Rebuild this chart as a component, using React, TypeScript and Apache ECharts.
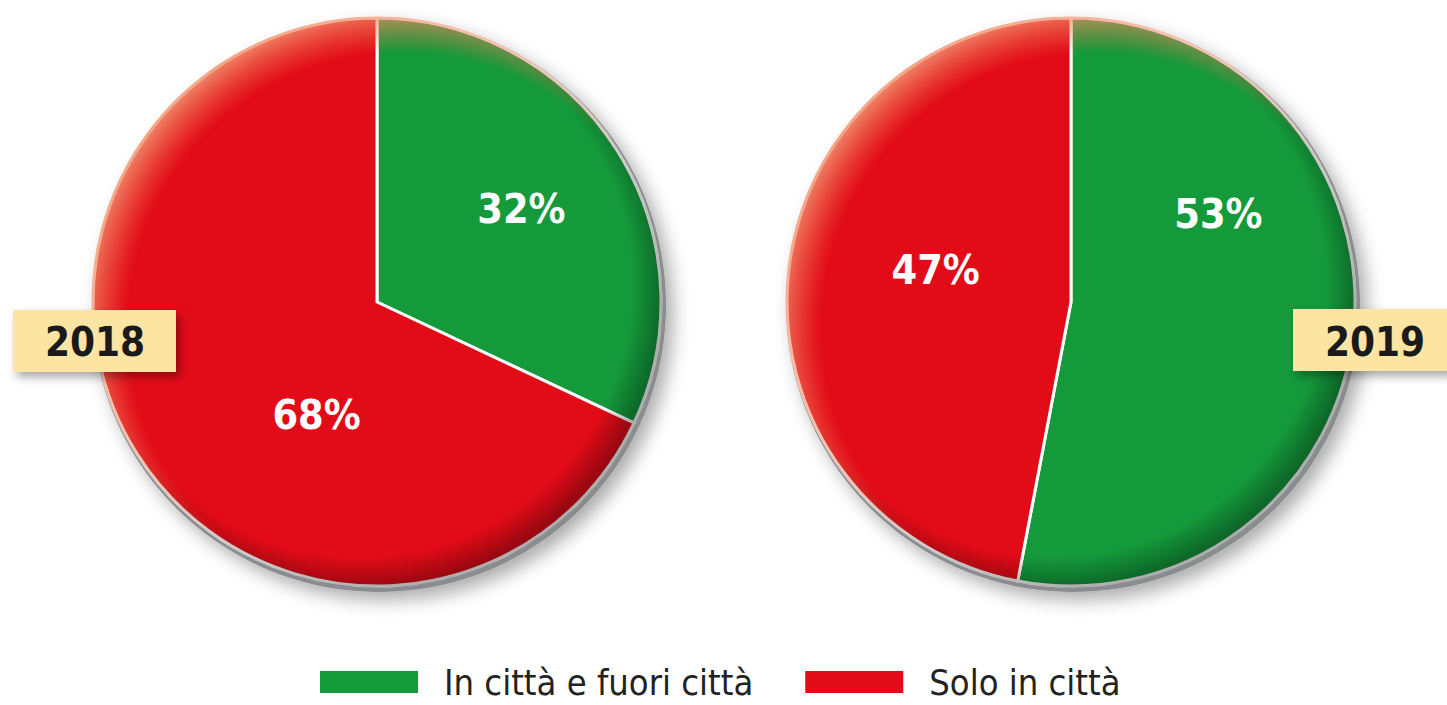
import React, { useEffect, useRef } from "react";
import * as echarts from "echarts";

const categories = ["In città e fuori città", "Solo in città"];
const years = ["2018", "2019"];
const values2018 = [32, 68];
const values2019 = [53, 47];
const colors = ["#14993b", "#e20b18"];

const FONT = '"Liberation Sans Narrow", "DejaVu Sans Condensed", "Roboto Condensed", sans-serif';

// label nudges (px) relative to ECharts' "inside" position, per pie and slice
const labelNudges = [
  [[22, -15], [62, 35]],
  [[3, -102], [9, -18]],
];

const pieCenters = [[377, 302], [1071, 302]];
const R = 284;

export default function App() {
  const ref = useRef<HTMLDivElement>(null);
  useEffect(() => {
    document.body.style.margin = "0";
    const chart = echarts.init(ref.current!, null, { renderer: "svg" });
    const allValues = [values2018, values2019];

    const series = allValues.map((vals, pi) => ({
      type: "pie",
      center: pieCenters[pi],
      radius: R,
      startAngle: 90,
      clockwise: true,
      z: 2,
      silent: true,
      itemStyle: { borderColor: "#ffffff", borderWidth: 3 },
      label: {
        show: true,
        position: "inside",
        formatter: "{c}%",
        color: "#ffffff",
        fontFamily: FONT,
        fontWeight: "bold",
        fontSize: 41,
      },
      labelLine: { show: false },
      data: vals.map((v, i) => ({
        name: categories[i],
        value: v,
        itemStyle: { color: colors[i] },
        label: { offset: labelNudges[pi][i] },
      })),
    }));

    const graphics: any[] = [];
    pieCenters.forEach(([cx, cy]) => {
      graphics.push({
        type: "circle",
        z: 1,
        silent: true,
        shape: { cx: cx + 2, cy: cy + 3, r: R + 3 },
        style: {
          fill: "#8a8d8f",
          shadowBlur: 18,
          shadowOffsetX: 7,
          shadowOffsetY: 8,
          shadowColor: "rgba(0,0,0,0.33)",
        },
      });
      graphics.push({
        type: "circle",
        z: 5,
        silent: true,
        shape: { cx, cy, r: R + 1.5 },
        style: {
          fill: new echarts.graphic.RadialGradient(0.47, 0.47, 0.53, [
            { offset: 0, color: "rgba(0,0,0,0)" },
            { offset: 0.9, color: "rgba(0,0,0,0)" },
            { offset: 1, color: "rgba(0,0,0,0.32)" },
          ]),
        },
      });
      graphics.push({
        type: "circle",
        z: 5,
        silent: true,
        shape: { cx, cy, r: R + 1.5 },
        style: {
          fill: new echarts.graphic.RadialGradient(0.545, 0.545, 0.56, [
            { offset: 0, color: "rgba(240,110,70,0)" },
            { offset: 0.86, color: "rgba(240,110,70,0)" },
            { offset: 1, color: "rgba(242,150,115,0.85)" },
          ]),
        },
      });
    });

    const boxes = [
      { x: 13, y: 310, w: 163, tx: 95 },
      { x: 1293, y: 309, w: 160, tx: 1375 },
    ];
    years.forEach((yr, i) => {
      const b = boxes[i];
      graphics.push({
        type: "rect",
        z: 20,
        zlevel: 1,
        silent: true,
        shape: { x: b.x, y: b.y, width: b.w, height: 62 },
        style: {
          fill: "#fce4a2",
          shadowBlur: 10,
          shadowOffsetX: 4,
          shadowOffsetY: 5,
          shadowColor: "rgba(0,0,0,0.35)",
        },
      });
      graphics.push({
        type: "text",
        z: 21,
        zlevel: 1,
        silent: true,
        x: b.tx,
        y: 342,
        style: {
          text: yr,
          fill: "#1a1a1a",
          font: `bold 40px ${FONT}`,
          align: "center",
          verticalAlign: "middle",
        },
      });
    });

    chart.setOption({
      animation: false,
      backgroundColor: "#ffffff",
      legend: {
        left: 318,
        top: 664,
        padding: 0,
        itemWidth: 100,
        itemHeight: 24,
        itemGap: 50,
        icon: "rect",
        data: categories,
        textStyle: {
          fontFamily: FONT,
          fontSize: 36,
          color: "#222222",
          padding: [0, 0, 0, 20],
        },
        selectedMode: false,
      },
      series,
      graphic: graphics,
    });
    return () => chart.dispose();
  }, []);
  return <div ref={ref} style={{ width: 1447, height: 705 }} />;
}
